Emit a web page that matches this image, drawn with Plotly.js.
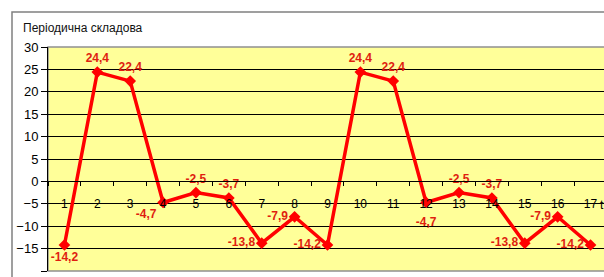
<!DOCTYPE html>
<html>
<head>
<meta charset="utf-8">
<script src="https://cdn.plot.ly/plotly-3.0.1.min.js"></script>
<style>html,body{margin:0;padding:0;background:#fff;overflow:hidden;}#chart{width:604px;height:277px;}</style>
</head>
<body>
<div id="chart"></div>
<script>
const categories = ["1","2","3","4","5","6","7","8","9","10","11","12","13","14","15","16","17"];
const values = [-14.2, 24.4, 22.4, -4.7, -2.5, -3.7, -13.8, -7.9, -14.2, 24.4, 22.4, -4.7, -2.5, -3.7, -13.8, -7.9, -14.2];
const labelPositions = ["bottom center","top center","top center","bottom left","top center","top center","middle left","middle left","middle left","top center","top center","bottom center","top center","top center","middle left","middle left","middle left"];
const labelOffsetSizes = [10,9,9,9,9,9,9,9,9,9,9,22,9,9,9,9,9];
const chartTitle = "Періодична складова";
const yTicks = [-20,-15,-10,-5,0,5,10,15,20,25,30];

const labels = values.map(v => String(v).replace(".", ","));
const FONT = "Liberation Sans, Arial, sans-serif";

const lineTrace = {
  x: categories,
  y: values,
  type: "scatter",
  mode: "lines+markers",
  line: {color: "#ff0000", width: 3.5},
  marker: {symbol: "diamond", size: 9, color: "#ff0000"},
  cliponaxis: false,
  hoverinfo: "none"
};

const labelTrace = {
  x: categories,
  y: values,
  type: "scatter",
  mode: "markers+text",
  marker: {size: labelOffsetSizes, opacity: 0, color: "#ff0000"},
  text: labels,
  textposition: labelPositions,
  textfont: {family: FONT, size: 12, color: "#e01e10", weight: "bold"},
  cliponaxis: false,
  hoverinfo: "none"
};

const layout = {
  width: 604, height: 277,
  margin: {l: 48, r: 0, t: 47, b: 6, pad: 0},
  paper_bgcolor: "#ffffff",
  plot_bgcolor: "#ffff99",
  showlegend: false,
  title: {
    text: chartTitle,
    xref: "container", yref: "container",
    x: 23/604, xanchor: "left",
    y: 1 - 28/277, yanchor: "middle",
    font: {family: FONT, size: 12, color: "#111"}
  },
  xaxis: {
    type: "category",
    range: [-0.5, 16.41],
    anchor: "free",
    position: 0.4,
    showline: true, linecolor: "#000", linewidth: 1,
    ticks: "outside", tickson: "boundaries", ticklen: 4, tickcolor: "#000", tickwidth: 1,
    ticklabelstandoff: 11,
    showgrid: false, zeroline: false,
    tickfont: {family: FONT, size: 12, color: "#000"},
    fixedrange: true
  },
  yaxis: {
    range: [-20, 30],
    tickvals: yTicks,
    domain: [0, 1],
    showline: true, linecolor: "#000", linewidth: 1,
    ticks: "outside", ticklen: 6, tickcolor: "#000",
    showgrid: true, gridcolor: "#000", gridwidth: 1,
    zeroline: false,
    tickfont: {family: FONT, size: 13, color: "#000"},
    fixedrange: true
  },
  shapes: [
    {type: "rect", xref: "paper", yref: "paper", x0: (12-48)/556, x1: 1.05, y0: -0.2, y1: (271-12)/224,
     line: {color: "#808080", width: 1.5}, layer: "below"},
    {type: "rect", xref: "paper", yref: "paper", x0: 0, x1: 1.05, y0: 0, y1: 1,
     line: {color: "#909090", width: 1.5}, layer: "below"}
  ],
  annotations: [
    {text: "t", xref: "paper", yref: "paper", x: (598-48)/556, y: 0.4, xanchor: "left", yanchor: "top", yshift: -15,
     showarrow: false, font: {family: FONT, size: 12, color: "#000"}}
  ]
};

Plotly.newPlot("chart", [lineTrace, labelTrace], layout, {staticPlot: true, displayModeBar: false});
</script>
</body>
</html>
